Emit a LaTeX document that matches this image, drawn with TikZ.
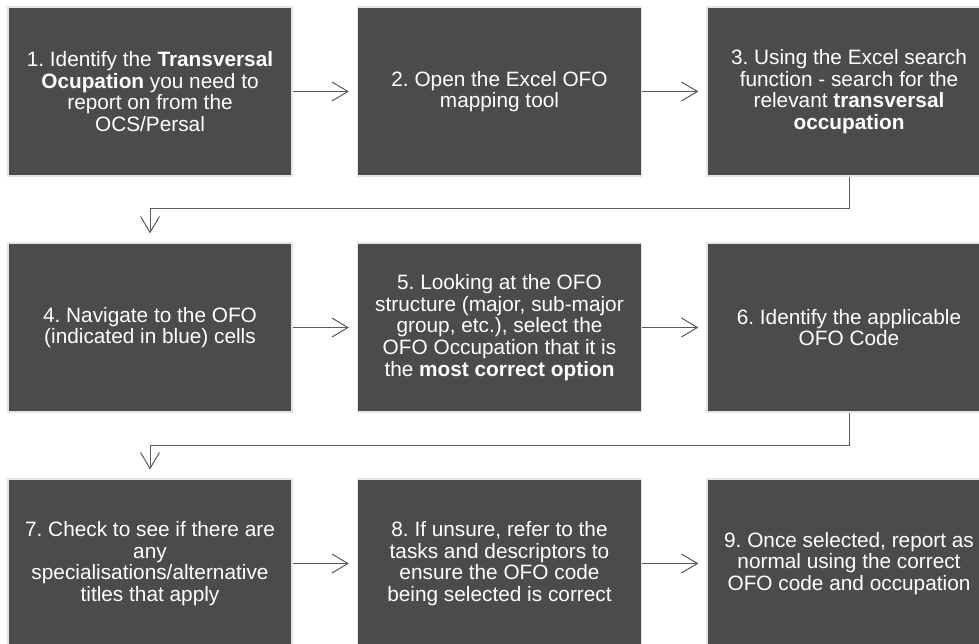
\documentclass[tikz,border=0pt]{standalone}
\usepackage{fontspec}
\setmainfont{Liberation Sans}
\usetikzlibrary{arrows.meta}
\frenchspacing
\definecolor{boxgray}{HTML}{4A4B4D}
\definecolor{boxrim}{HTML}{E4E4E4}
\definecolor{linegray}{HTML}{5A5A5A}
\tikzset{
    stepbox/.style={rectangle, fill=boxgray, draw=boxrim, line width=1.2pt,
        minimum width=284pt, minimum height=169pt, inner sep=0pt,
        text=white, align=center,
        font=\fontsize{20.8}{21.6}\selectfont},
    flow/.style={draw=linegray, line width=1pt,
        -{Straight Barb[length=16pt,width=19pt,line width=1pt]}},
}
\begin{document}
\begin{tikzpicture}[x=1pt,y=-1pt]
            \useasboundingbox (0,0) rectangle (979,644);
            \fill[white] (0,0) rectangle (979,644);

            % first row
            \node[stepbox] (b1) at (150, 91.5){1. Identify the \textbf{Transversal}\\\textbf{Ocupation} you need to\\report on from the\\OCS/Persal};
            \node[stepbox] (b2) at (499.5, 91.5){2. Open the Excel OFO\\mapping tool};
            \node[stepbox] (b3) at (849, 91.5){3. Using the Excel search\\function - search for the\\relevant \textbf{transversal}\\\textbf{occupation}};

            % second row
            \node[stepbox] (b4) at (150, 327.5){4. Navigate to the OFO\\(indicated in blue) cells};
            \node[stepbox] (b5) at (499.5, 327.5){5. Looking at the OFO\\structure (major, sub-major\\group, etc.), select the\\OFO Occupation that it is\\the \textbf{most correct option}};
            \node[stepbox] (b6) at (849, 327.5){6. Identify the applicable\\OFO Code};

            % third row
            \node[stepbox] (b7) at (150, 563.5){7. Check to see if there are\\any\\specialisations/alternative\\titles that apply};
            \node[stepbox] (b8) at (499.5, 563.5){8. If unsure, refer to the\\tasks and descriptors to\\ensure the OFO code\\being selected is correct};
            \node[stepbox] (b9) at (849, 563.5){9. Once selected, report as\\normal using the correct\\OFO code and occupation};

            \foreach \a/\b in {b1/b2, b2/b3, b4/b5, b5/b6, b7/b8, b8/b9}
                \draw[flow, shorten >=8pt] (\a) -- (\b);

            \coordinate (k1) at (849, 209);
            \coordinate (k2) at (849, 445);
            \draw[flow, shorten >=9pt] (b3) -- (k1) -| (b4);
            \draw[flow, shorten >=9pt] (b6) -- (k2) -| (b7);
        \end{tikzpicture}
\end{document}
